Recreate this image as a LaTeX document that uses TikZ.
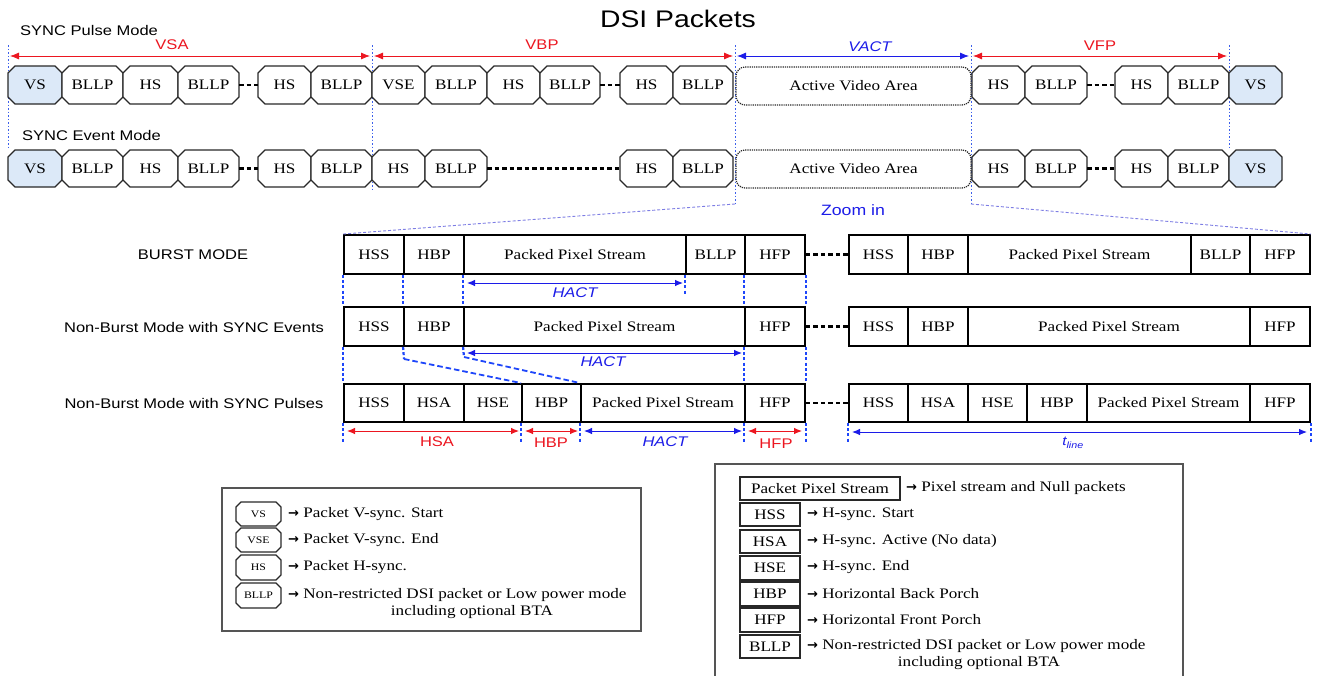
\documentclass[tikz,border=0pt]{standalone}
\usepackage{fontspec}
\setmainfont{Liberation Serif}[FakeStretch=1.18]
\setsansfont{Liberation Sans}[FakeStretch=1.18]
\newfontfamily\arrfont{DejaVu Sans}
\usetikzlibrary{arrows.meta,calc}
\definecolor{vsblue}{RGB}{220,233,248}
\definecolor{dimred}{RGB}{236,22,32}
\definecolor{dimblue}{RGB}{28,28,232}
\definecolor{guideblue}{RGB}{60,95,235}
\definecolor{mguideblue}{RGB}{30,70,250}
\definecolor{zoomblue}{RGB}{125,125,228}
\definecolor{edge}{RGB}{40,40,40}
\definecolor{legedge}{RGB}{85,85,85}
\def\chf{7}
\newcommand\octbox[7]{%
  \path[octline, fill=#6] (#2,#4+\chf) -- (#2+\chf,#4) -- (#3-\chf,#4) -- (#3,#4+\chf)
     -- (#3,#5-\chf) -- (#3-\chf,#5) -- (#2+\chf,#5) -- (#2,#5-\chf) -- cycle;
  \node[pktxt, minimum width={(#3-#2)*1pt}, minimum height={(#5-#4)*1pt}] (#1)
     at ({(#2+#3)/2},{(#4+#5)/2}) {#7};}
\newcommand\recbox[6]{%
  \node[rbox, minimum width={(#3-#2)*1pt}, minimum height={(#5-#4)*1pt}] (#1)
     at ({(#2+#3)/2},{(#4+#5)/2}) {#6};}
\newcommand\legbox[6]{%
  \node[lbox, minimum width={(#3-#2)*1pt}, minimum height={(#5-#4)*1pt}] (#1)
     at ({(#2+#3)/2},{(#4+#5)/2}) {#6};}
\newcommand\rarr{{\arrfont\bfseries\fontsize{13}{15}\selectfont →}}
\tikzset{
  pktxt/.style={font=\fontsize{14.5}{16}\selectfont, inner sep=0pt},
  octline/.style={draw=edge, line width=1.3pt, line join=round},
  avabox/.style={draw=edge, densely dotted, line width=1.2pt, rounded corners=9pt,
     font=\fontsize{14.5}{16}\selectfont, inner sep=0pt},
  rbox/.style={draw=black, line width=1.9pt, font=\fontsize{14.5}{16}\selectfont, inner sep=0pt},
  lbox/.style={draw=edge, line width=1.3pt, font=\fontsize{14.5}{16}\selectfont, inner sep=0pt},
  gap/.style={draw=black, line width=2.1pt, dash pattern=on 4.5pt off 3pt},
  sanslbl/.style={font=\sffamily\fontsize{14}{16}\selectfont, inner sep=0pt},
  dimR/.style={draw=dimred, line width=0.8pt, arrows={Latex[length=9pt,width=7pt]-Latex[length=9pt,width=7pt]}},
  dimB/.style={draw=dimblue, line width=0.8pt, arrows={Latex[length=9pt,width=7pt]-Latex[length=9pt,width=7pt]}},
  mdimR/.style={draw=dimred, line width=0.9pt, arrows={Latex[length=8pt,width=6.5pt]-Latex[length=8pt,width=6.5pt]}},
  mdimB/.style={draw=dimblue, line width=0.9pt, arrows={Latex[length=8pt,width=6.5pt]-Latex[length=8pt,width=6.5pt]}},
  rlbl/.style={sanslbl, text=dimred},
  blbl/.style={sanslbl, text=dimblue, font=\sffamily\itshape\fontsize{14}{16}\selectfont},
  tguide/.style={draw=guideblue, line width=1pt, dash pattern=on 1.5pt off 2pt},
  mguide/.style={draw=mguideblue, line width=2.2pt, dash pattern=on 3pt off 2.2pt},
  slant/.style={draw=mguideblue, line width=1.8pt, dash pattern=on 5.5pt off 3pt},
  zoomline/.style={draw=zoomblue, line width=0.9pt, dash pattern=on 3pt off 2pt},
  legtxt/.style={font=\fontsize{14.5}{16}\selectfont, inner sep=0pt, anchor=west},
  legctr/.style={font=\fontsize{14.5}{16}\selectfont, inner sep=0pt},
}
\begin{document}
\begin{tikzpicture}[x=1pt,y=-1pt]
\useasboundingbox (0,0) rectangle (1320,675);
\clip (0,0) rectangle (1320,675);
\fill[white] (0,0) rectangle (1320,675);

% title and mode labels
\node[font=\sffamily\fontsize{24}{26}\selectfont, inner sep=0pt] (title) at (678,19) {DSI Packets};
\node[sanslbl, anchor=west] (pulsemode) at (20,30) {SYNC Pulse Mode};
\node[sanslbl, anchor=west] (eventmode) at (22,135) {SYNC Event Mode};

% top vertical guides
\draw[tguide] (8,45) -- (8,150);
\draw[tguide] (372,45) -- (372,192);
\draw[tguide] (735,45) -- (735,204);
\draw[tguide] (971,45) -- (971,204);
\draw[tguide] (1229,45) -- (1229,150);

% top dimension arrows
\coordinate (vsaL) at (10,56);  \coordinate (vsaR) at (370,56);
\coordinate (vbpL) at (374,56); \coordinate (vbpR) at (733,56);
\coordinate (vacL) at (737,56); \coordinate (vacR) at (969,56);
\coordinate (vfpL) at (973,56); \coordinate (vfpR) at (1227,56);
\draw[dimR] (vsaL) -- (vsaR);
\draw[dimR] (vbpL) -- (vbpR);
\draw[dimB] (vacL) -- (vacR);
\draw[dimR] (vfpL) -- (vfpR);
\node[rlbl] (lvsa) at (172,45) {VSA};
\node[rlbl] (lvbp) at (542,45) {VBP};
\node[blbl] (lvact) at (870,47) {VACT};
\node[rlbl] (lvfp) at (1100,46) {VFP};

% row 1 : SYNC pulse mode
\octbox{a1}{8}{62}{66}{104}{vsblue}{VS}
\octbox{a2}{62}{123}{66}{104}{white}{BLLP}
\octbox{a3}{123}{178}{66}{104}{white}{HS}
\octbox{a4}{178}{239}{66}{104}{white}{BLLP}
\octbox{a5}{258}{311}{66}{104}{white}{HS}
\octbox{a6}{311}{372}{66}{104}{white}{BLLP}
\octbox{a7}{372}{425}{66}{104}{white}{VSE}
\octbox{a8}{425}{487}{66}{104}{white}{BLLP}
\octbox{a9}{487}{540}{66}{104}{white}{HS}
\octbox{a10}{540}{600}{66}{104}{white}{BLLP}
\octbox{a11}{620}{673}{66}{104}{white}{HS}
\octbox{a12}{673}{733}{66}{104}{white}{BLLP}
\node[avabox, minimum width=235pt, minimum height=38pt] (a13) at (853.5,86) {Active Video Area};
\octbox{a14}{972}{1025}{66}{104}{white}{HS}
\octbox{a15}{1025}{1087}{66}{104}{white}{BLLP}
\octbox{a16}{1115}{1168}{66}{104}{white}{HS}
\octbox{a17}{1168}{1229}{66}{104}{white}{BLLP}
\octbox{a18}{1229}{1282}{66}{104}{vsblue}{VS}
\draw[gap] (a4.east) -- (a5.west);
\draw[gap] (a10.east) -- (a11.west);
\draw[gap] (a15.east) -- (a16.west);

% row 2 : SYNC event mode
\octbox{b1}{8}{62}{150}{187}{vsblue}{VS}
\octbox{b2}{62}{123}{150}{187}{white}{BLLP}
\octbox{b3}{123}{178}{150}{187}{white}{HS}
\octbox{b4}{178}{239}{150}{187}{white}{BLLP}
\octbox{b5}{258}{311}{150}{187}{white}{HS}
\octbox{b6}{311}{372}{150}{187}{white}{BLLP}
\octbox{b7}{372}{425}{150}{187}{white}{HS}
\octbox{b8}{425}{487}{150}{187}{white}{BLLP}
\octbox{b9}{620}{673}{150}{187}{white}{HS}
\octbox{b10}{673}{733}{150}{187}{white}{BLLP}
\node[avabox, minimum width=235pt, minimum height=38pt] (b11) at (853.5,169) {Active Video Area};
\octbox{b12}{972}{1025}{150}{187}{white}{HS}
\octbox{b13}{1025}{1087}{150}{187}{white}{BLLP}
\octbox{b14}{1115}{1168}{150}{187}{white}{HS}
\octbox{b15}{1168}{1229}{150}{187}{white}{BLLP}
\octbox{b16}{1229}{1282}{150}{187}{vsblue}{VS}
\draw[gap] (b4.east) -- (b5.west);
\draw[gap] (b8.east) -- (b9.west);
\draw[gap] (b13.east) -- (b14.west);

% zoom in
\node[sanslbl, text=dimblue, font=\sffamily\fontsize{15}{17}\selectfont] (zoomin) at (853,210) {Zoom in};
\coordinate (zl) at (735,204);
\coordinate (zr) at (971,204);

% middle rows
\node[sanslbl] (lburst) at (193,255) {BURST MODE};
\node[sanslbl] (levents) at (194,327) {Non-Burst Mode with SYNC Events};
\node[sanslbl] (lpulses) at (194,403) {Non-Burst Mode with SYNC Pulses};

\recbox{ma1}{344}{404}{235}{274}{HSS}
\recbox{ma2}{404}{464}{235}{274}{HBP}
\recbox{ma3}{464}{686}{235}{274}{Packed Pixel Stream}
\recbox{ma4}{686}{745}{235}{274}{BLLP}
\recbox{ma5}{745}{805}{235}{274}{HFP}
\recbox{ma6}{849}{908}{235}{274}{HSS}
\recbox{ma7}{908}{968}{235}{274}{HBP}
\recbox{ma8}{968}{1191}{235}{274}{Packed Pixel Stream}
\recbox{ma9}{1191}{1250}{235}{274}{BLLP}
\recbox{ma10}{1250}{1310}{235}{274}{HFP}
\draw[gap] (ma5.east) -- (ma6.west);

\recbox{mb1}{344}{404}{307}{346}{HSS}
\recbox{mb2}{404}{464}{307}{346}{HBP}
\recbox{mb3}{464}{745}{307}{346}{Packed Pixel Stream}
\recbox{mb4}{745}{805}{307}{346}{HFP}
\recbox{mb5}{849}{908}{307}{346}{HSS}
\recbox{mb6}{908}{968}{307}{346}{HBP}
\recbox{mb7}{968}{1250}{307}{346}{Packed Pixel Stream}
\recbox{mb8}{1250}{1310}{307}{346}{HFP}
\draw[gap] (mb4.east) -- (mb5.west);

\recbox{mc1}{344}{404}{384}{422}{HSS}
\recbox{mc2}{404}{464}{384}{422}{HSA}
\recbox{mc3}{464}{522}{384}{422}{HSE}
\recbox{mc4}{522}{581}{384}{422}{HBP}
\recbox{mc5}{581}{745}{384}{422}{Packed Pixel Stream}
\recbox{mc6}{745}{805}{384}{422}{HFP}
\recbox{mc7}{849}{908}{384}{422}{HSS}
\recbox{mc8}{908}{968}{384}{422}{HSA}
\recbox{mc9}{968}{1027}{384}{422}{HSE}
\recbox{mc10}{1027}{1087}{384}{422}{HBP}
\recbox{mc11}{1087}{1250}{384}{422}{Packed Pixel Stream}
\recbox{mc12}{1250}{1310}{384}{422}{HFP}
\draw[gap] (mc6.east) -- (mc7.west);

% zoom lines
\draw[zoomline] (zl) -- (ma1.north west);
\draw[zoomline] (zr) -- (ma10.north east);

% middle guides
\draw[mguide] (ma1.south west) -- (mb1.north west);
\draw[mguide] (ma2.south west) -- (mb2.north west);
\draw[mguide] (ma3.south west) -- (mb3.north west);
\draw[mguide] (ma4.south west) -- ++(0,20);
\draw[mguide] (ma5.south west) -- (mb4.north west);
\draw[mguide] (ma5.south east) -- (mb4.north east);
\draw[mguide] (mb1.south west) -- (mc1.north west);
\coordinate (k1) at (404,359);
\coordinate (k2) at (464,357);
\draw[mguide] (mb2.south west) -- (k1);
\draw[mguide] (mb3.south west) -- (k2);
\draw[slant] (k1) -- (mc4.north west);
\draw[slant] (k2) -- (mc5.north west);
\draw[mguide] (mb4.south west) -- (mc6.north west);
\draw[mguide] (mb4.south east) -- (mc6.north east);
\draw[mguide] (mc1.south west) -- ++(0,19);
\draw[mguide] (mc4.south west) -- ++(0,19);
\draw[mguide] (mc5.south west) -- ++(0,19);
\draw[mguide] (mc6.south west) -- ++(0,19);
\draw[mguide] (mc6.south east) -- ++(0,19);
\draw[mguide] (mc7.south west) -- ++(0,19);
\draw[mguide] (mc12.south east) -- ++(0,19);

% middle dimension arrows
\coordinate (h1L) at (467,283); \coordinate (h1R) at (683,283);
\coordinate (h2L) at (467,353); \coordinate (h2R) at (742,353);
\draw[mdimB] (h1L) -- (h1R);
\draw[mdimB] (h2L) -- (h2R);
\node[blbl] (lh1) at (575,293) {HACT};
\node[blbl] (lh2) at (603,362) {HACT};
\coordinate (d1L) at (347,431); \coordinate (d1R) at (519,431);
\coordinate (d2L) at (525,431); \coordinate (d2R) at (578,431);
\coordinate (d3L) at (584,431); \coordinate (d3R) at (742,431);
\coordinate (d4L) at (748,431); \coordinate (d4R) at (802,431);
\coordinate (d5L) at (852,432); \coordinate (d5R) at (1307,432);
\draw[mdimR] (d1L) -- (d1R);
\draw[mdimR] (d2L) -- (d2R);
\draw[mdimB] (d3L) -- (d3R);
\draw[mdimR] (d4L) -- (d4R);
\draw[mdimB] (d5L) -- (d5R);
\node[rlbl] (lhsa) at (437,442) {HSA};
\node[rlbl] (lhbp) at (551,443) {HBP};
\node[blbl] (lhact) at (665,442) {HACT};
\node[rlbl] (lhfp) at (776,444) {HFP};
\node[blbl, font=\sffamily\itshape\fontsize{13}{15}\selectfont] (ltline) at (1073,443) {t\textsubscript{line}};

% legend 1
\draw[draw=legedge, line width=1.2pt] (222,488) rectangle (641,631);
\def\chf{5}
\begin{scope}[pktxt/.style={font=\fontsize{10}{12}\selectfont, inner sep=0pt}]
\octbox{lvs}{236}{281}{502}{526}{white}{VS}
\octbox{lvse}{236}{281}{528}{552}{white}{VSE}
\octbox{lhs}{236}{281}{555}{580}{white}{HS}
\octbox{lbllp}{236}{281}{583}{608}{white}{BLLP}
\end{scope}
\node[legtxt] (t1) at (288,514) {\rarr{} Packet V-sync. Start};
\node[legtxt] (t2) at (288,540) {\rarr{} Packet V-sync. End};
\node[legtxt] (t3) at (288,567) {\rarr{} Packet H-sync.};
\node[legtxt] (t4) at (288,595) {\rarr{} Non-restricted DSI packet or Low power mode};
\node[legctr] (t5) at (472,612) {including optional BTA};

% legend 2
\draw[draw=legedge, line width=1.2pt] (715,464) rectangle (1183,700);
\legbox{g1}{740}{900}{477}{500}{Packet Pixel Stream}
\legbox{g2}{740}{800}{503}{526}{HSS}
\legbox{g3}{740}{800}{530}{553}{HSA}
\legbox{g4}{740}{800}{556}{580}{HSE}
\legbox{g5}{740}{800}{582}{606}{HBP}
\legbox{g6}{740}{800}{608}{632}{HFP}
\legbox{g7}{740}{800}{635}{658}{BLLP}
\node[legtxt] (u1) at (906,488) {\rarr{} Pixel stream and Null packets};
\node[legtxt] (u2) at (807,514) {\rarr{} H-sync. Start};
\node[legtxt] (u3) at (807,541) {\rarr{} H-sync. Active (No data)};
\node[legtxt] (u4) at (807,567) {\rarr{} H-sync. End};
\node[legtxt] (u5) at (807,594) {\rarr{} Horizontal Back Porch};
\node[legtxt] (u6) at (807,620) {\rarr{} Horizontal Front Porch};
\node[legtxt] (u7) at (807,646) {\rarr{} Non-restricted DSI packet or Low power mode};
\node[legctr] (u8) at (979,663) {including optional BTA};
\end{tikzpicture}
\end{document}
